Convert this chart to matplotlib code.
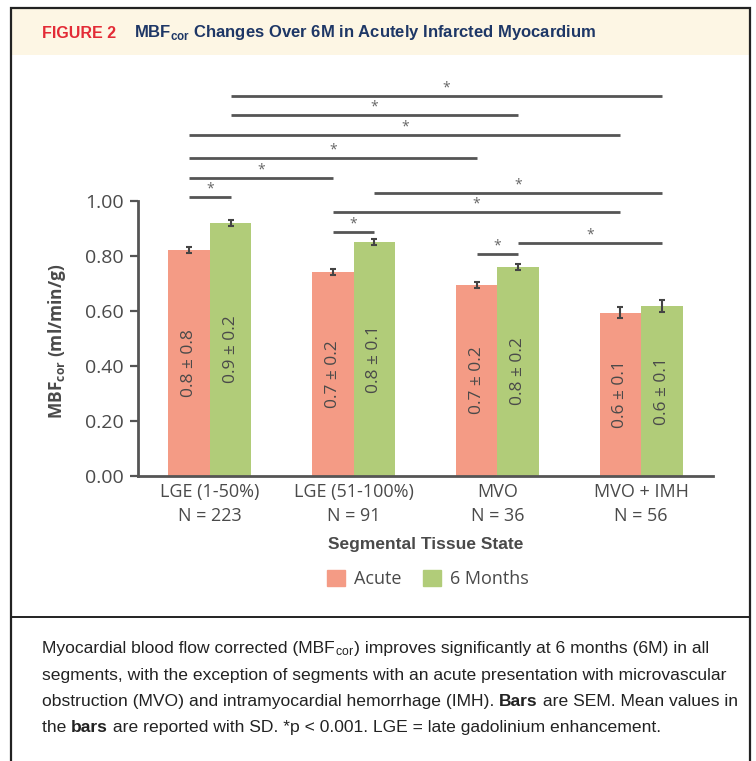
import matplotlib
matplotlib.use("Agg")
import matplotlib.pyplot as plt
from matplotlib.patches import Rectangle, Patch
from matplotlib.lines import Line2D
from matplotlib import font_manager

# data
groups = ['LGE (1-50%)\nN = 223', 'LGE (51-100%)\nN = 91', 'MVO\nN = 36', 'MVO + IMH\nN = 56']
acute = [0.822, 0.742, 0.695, 0.593]
six_months = [0.920, 0.851, 0.760, 0.618]
acute_sem = [0.010, 0.010, 0.012, 0.020]
six_sem = [0.012, 0.012, 0.012, 0.022]
acute_sd = ['0.8 ± 0.8', '0.7 ± 0.2', '0.7 ± 0.2', '0.6 ± 0.1']
six_sd = ['0.9 ± 0.2', '0.8 ± 0.1', '0.8 ± 0.2', '0.6 ± 0.1']

# significance brackets: (group, series) -> (group, series), series 0 = acute, 1 = 6 months
comparisons = [((0, 1), (3, 1)), ((0, 1), (2, 1)), ((0, 0), (3, 0)), ((0, 0), (2, 0)),
               ((0, 0), (1, 0)), ((0, 0), (0, 1)), ((1, 1), (3, 1)), ((1, 0), (3, 0)),
               ((1, 0), (1, 1)), ((2, 1), (3, 1)), ((2, 0), (2, 1))]
bracket_y = [1.382, 1.313, 1.240, 1.156, 1.084, 1.015, 1.029, 0.960, 0.887, 0.847, 0.807]

col_acute = '#F49B85'
col_six = '#B1CC79'
txt = '#4a4a4a'

avail = {f.name for f in font_manager.fontManager.ttflist}
base_font = 'Open Sans' if 'Open Sans' in avail else 'DejaVu Sans'
narrow = 'Liberation Sans Narrow' if 'Liberation Sans Narrow' in avail else 'Liberation Sans'
plt.rcParams['font.family'] = [base_font, 'DejaVu Sans']

W, H = 756, 761
fig = plt.figure(figsize=(W / 100, H / 100), dpi=100)


def fx(px):
    return px / W


def fy(py):
    return 1 - py / H


# header band and frame
fig.add_artist(Rectangle((fx(11), fy(55)), fx(750) - fx(11), fy(8) - fy(55),
                         transform=fig.transFigure, facecolor='#FDF6E4', edgecolor='none', zorder=0))
fig.add_artist(Rectangle((fx(11), fy(770)), fx(750) - fx(11), fy(8) - fy(770),
                         transform=fig.transFigure, facecolor='none', edgecolor='#222222', lw=1.6, zorder=5))
fig.add_artist(Line2D([fx(11), fx(750)], [fy(617), fy(617)], transform=fig.transFigure,
                      color='#222222', lw=1.4))

fig.text(fx(42), fy(33), 'FIGURE 2', color='#E32B36', fontsize=11.5, fontweight='bold',
         family=narrow, va='center')
fig.text(fx(134), fy(33), r'MBF$_{\mathregular{cor}}$ Changes Over 6M in Acutely Infarcted Myocardium',
         color='#1E3766', fontsize=12, fontweight='bold', family=narrow, va='center')

ax = fig.add_axes([fx(138), fy(476), fx(713) - fx(138), (fy(476 - 1.45 * 275)) - fy(476)])

x = list(range(len(groups)))
w = 0.289
xa = [i - w / 2 for i in x]
xs = [i + w / 2 for i in x]
ax.bar(xa, acute, width=w, color=col_acute, zorder=2)
ax.bar(xs, six_months, width=w, color=col_six, zorder=2)
ax.errorbar(xa, acute, yerr=acute_sem, fmt='none', ecolor='#444444', elinewidth=1.5, capsize=2.5,
            capthick=1.5, zorder=3)
ax.errorbar(xs, six_months, yerr=six_sem, fmt='none', ecolor='#444444', elinewidth=1.5, capsize=2.5,
            capthick=1.5, zorder=3)

for i in x:
    ax.text(xa[i], acute[i] / 2, acute_sd[i], rotation=90, ha='center', va='center',
            fontsize=12.5, color=txt)
    ax.text(xs[i], six_months[i] / 2, six_sd[i], rotation=90, ha='center', va='center',
            fontsize=12.5, color=txt)

pos = [xa, xs]
for (a, b), yb in zip(comparisons, bracket_y):
    x0 = pos[a[1]][a[0]]
    x1 = pos[b[1]][b[0]]
    ax.plot([x0, x1], [yb, yb], color='#555555', lw=2, solid_capstyle='butt', zorder=2)
    ax.text((x0 + x1) / 2, yb + 0.028, '*', ha='center', va='center', fontsize=10, color='#666666')

ax.set_xlim(-0.5, 3.5)
ax.set_ylim(0, 1.45)
ax.set_yticks([0, 0.2, 0.4, 0.6, 0.8, 1.0])
ax.set_yticklabels(['0.00', '0.20', '0.40', '0.60', '0.80', '1.00'])
ax.set_xticks(x)
ax.set_xticklabels(groups, fontsize=13, color=txt, linespacing=1.45)
ax.tick_params(axis='x', length=0, pad=5)
ax.tick_params(axis='y', length=6, width=1.6, color='#555555', labelsize=14, labelcolor=txt, pad=4)
for s in ['top', 'right']:
    ax.spines[s].set_visible(False)
ax.spines['left'].set_bounds(0, 1.0)
ax.spines['left'].set_color('#555555')
ax.spines['bottom'].set_color('#555555')
ax.spines['left'].set_linewidth(2)
ax.spines['bottom'].set_linewidth(2)

ax.text(-0.14, 0.49, r'MBF$_{\mathregular{cor}}$ (ml/min/g)', transform=ax.get_yaxis_transform(),
        rotation=90, ha='center', va='center', fontsize=12.5, fontweight='bold', color=txt)
fig.text(fx(426), fy(545), 'Segmental Tissue State', ha='center', va='center', fontsize=12.5,
         fontweight='bold', color=txt, family=narrow)

handles = [Patch(color=col_acute, label='Acute'), Patch(color=col_six, label='6 Months')]
fig.legend(handles=handles, loc='center', bbox_to_anchor=(fx(428), fy(579)), ncol=2, frameon=False,
           fontsize=13, handlelength=1.0, handleheight=1.0, handletextpad=0.5, columnspacing=1.2,
           labelcolor=txt)

# caption, drawn piece by piece so bold words stay inline
caption = [
    [('Myocardial blood flow corrected (MBF', 'normal'), (r'$_{\mathregular{cor}}$', 'normal'),
     (') improves significantly at 6 months (6M) in all', 'normal')],
    [('segments, with the exception of segments with an acute presentation with microvascular', 'normal')],
    [('obstruction (MVO) and intramyocardial hemorrhage (IMH). ', 'normal'), ('Bars', 'bold'),
     (' are SEM. Mean values in', 'normal')],
    [('the ', 'normal'), ('bars', 'bold'), (' are reported with SD. *p < 0.001. LGE = late gadolinium enhancement.',
                                           'normal')],
]
line_y = [653, 680, 706, 732]
fig.canvas.draw()
r = fig.canvas.get_renderer()
for parts, ly in zip(caption, line_y):
    cx = fx(42)
    for s, wt in parts:
        t = fig.text(cx, fy(ly), s, fontsize=12.6, fontweight=wt, color='#222222', family=narrow,
                     va='baseline')
        bb = t.get_window_extent(renderer=r)
        cx += bb.width / fig.bbox.width

fig.savefig('out.png', dpi=100)
